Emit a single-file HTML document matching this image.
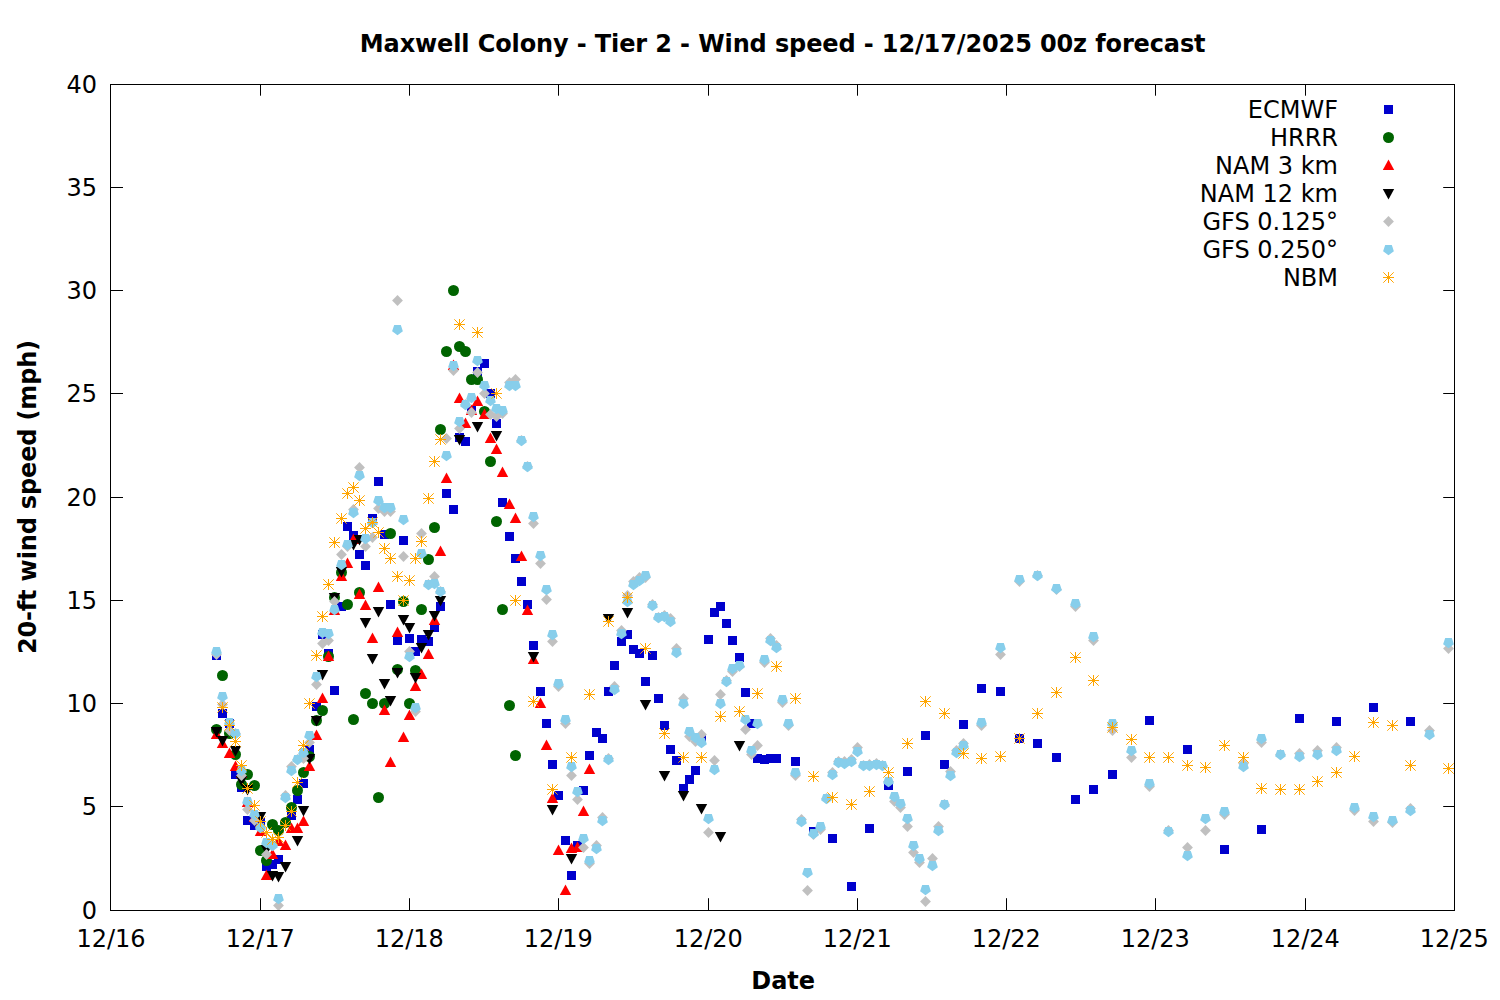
<!DOCTYPE html>
<html lang="en"><head><meta charset="utf-8"><title>Maxwell Colony - Tier 2 - Wind speed - 12/17/2025 00z forecast</title>
<style>html,body{margin:0;padding:0;background:#fff}body{width:1500px;height:1000px;overflow:hidden}svg{display:block}text{font-family:"DejaVu Sans","Liberation Sans",sans-serif;font-size:24px;fill:#000}.b{font-weight:bold}.e{text-anchor:end}.m{text-anchor:middle}</style></head><body>
<svg width="1500" height="1000" viewBox="0 0 1500 1000">
<rect width="1500" height="1000" fill="#fff"/>
<text class="b m" x="782.7" y="51.5" textLength="845.8" lengthAdjust="spacing">Maxwell Colony - Tier 2 - Wind speed - 12/17/2025 00z forecast</text>
<text class="b m" x="783.2" y="989">Date</text>
<text class="b m" transform="translate(35.5 497) rotate(-90)" textLength="314.2" lengthAdjust="spacing">20-ft wind speed (mph)</text>
<text class="e" x="97" y="919.3">0</text>
<text class="e" x="97" y="815.3">5</text>
<text class="e" x="97" y="712.3">10</text>
<text class="e" x="97" y="609.3">15</text>
<text class="e" x="97" y="506.3">20</text>
<text class="e" x="97" y="402.3">25</text>
<text class="e" x="97" y="299.3">30</text>
<text class="e" x="97" y="196.3">35</text>
<text class="e" x="97" y="93.3">40</text>
<text class="m" x="111" y="947">12/16</text>
<text class="m" x="260.25" y="947">12/17</text>
<text class="m" x="409.25" y="947">12/18</text>
<text class="m" x="558.25" y="947">12/19</text>
<text class="m" x="708.25" y="947">12/20</text>
<text class="m" x="857.25" y="947">12/21</text>
<text class="m" x="1006.25" y="947">12/22</text>
<text class="m" x="1155.25" y="947">12/23</text>
<text class="m" x="1305.25" y="947">12/24</text>
<text class="m" x="1454.25" y="947">12/25</text>
<path d="M110.5 910.5h12.5M1454.5 910.5h-11.3M110.5 806.5h12.5M1454.5 806.5h-11.3M110.5 703.5h12.5M1454.5 703.5h-11.3M110.5 600.5h12.5M1454.5 600.5h-11.3M110.5 497.5h12.5M1454.5 497.5h-11.3M110.5 393.5h12.5M1454.5 393.5h-11.3M110.5 290.5h12.5M1454.5 290.5h-11.3M110.5 187.5h12.5M1454.5 187.5h-11.3M110.5 84.5h12.5M1454.5 84.5h-11.3M110.5 910.5v-12.3M110.5 84.5v11.2M260.5 910.5v-12.3M260.5 84.5v11.2M409.5 910.5v-12.3M409.5 84.5v11.2M558.5 910.5v-12.3M558.5 84.5v11.2M708.5 910.5v-12.3M708.5 84.5v11.2M857.5 910.5v-12.3M857.5 84.5v11.2M1006.5 910.5v-12.3M1006.5 84.5v11.2M1155.5 910.5v-12.3M1155.5 84.5v11.2M1305.5 910.5v-12.3M1305.5 84.5v11.2M1454.5 910.5v-12.3M1454.5 84.5v11.2" stroke="#000" stroke-width="1" fill="none"/>
<g stroke-width="1" fill="none">
<g>
<rect x="212" y="651" width="9" height="9" fill="#0000CD"/>
<rect x="218" y="709" width="9" height="9" fill="#0000CD"/>
<rect x="225" y="719" width="9" height="9" fill="#0000CD"/>
<rect x="231" y="770" width="9" height="9" fill="#0000CD"/>
<rect x="237" y="783" width="9" height="9" fill="#0000CD"/>
<rect x="243" y="816" width="9" height="9" fill="#0000CD"/>
<rect x="250" y="821" width="9" height="9" fill="#0000CD"/>
<rect x="256" y="818" width="9" height="9" fill="#0000CD"/>
<rect x="262" y="862" width="9" height="9" fill="#0000CD"/>
<rect x="268" y="860" width="9" height="9" fill="#0000CD"/>
<rect x="274" y="855" width="9" height="9" fill="#0000CD"/>
<rect x="287" y="811" width="9" height="9" fill="#0000CD"/>
<rect x="293" y="795" width="9" height="9" fill="#0000CD"/>
<rect x="299" y="779" width="9" height="9" fill="#0000CD"/>
<rect x="305" y="745" width="9" height="9" fill="#0000CD"/>
<rect x="312" y="702" width="9" height="9" fill="#0000CD"/>
<rect x="318" y="630" width="9" height="9" fill="#0000CD"/>
<rect x="324" y="649" width="9" height="9" fill="#0000CD"/>
<rect x="330" y="686" width="9" height="9" fill="#0000CD"/>
<rect x="337" y="602" width="9" height="9" fill="#0000CD"/>
<rect x="343" y="522" width="9" height="9" fill="#0000CD"/>
<rect x="349" y="531" width="9" height="9" fill="#0000CD"/>
<rect x="355" y="550" width="9" height="9" fill="#0000CD"/>
<rect x="361" y="561" width="9" height="9" fill="#0000CD"/>
<rect x="368" y="514" width="9" height="9" fill="#0000CD"/>
<rect x="374" y="477" width="9" height="9" fill="#0000CD"/>
<rect x="380" y="530" width="9" height="9" fill="#0000CD"/>
<rect x="386" y="600" width="9" height="9" fill="#0000CD"/>
<rect x="393" y="636" width="9" height="9" fill="#0000CD"/>
<rect x="399" y="536" width="9" height="9" fill="#0000CD"/>
<rect x="405" y="634" width="9" height="9" fill="#0000CD"/>
<rect x="411" y="647" width="9" height="9" fill="#0000CD"/>
<rect x="417" y="635" width="9" height="9" fill="#0000CD"/>
<rect x="424" y="637" width="9" height="9" fill="#0000CD"/>
<rect x="430" y="623" width="9" height="9" fill="#0000CD"/>
<rect x="436" y="602" width="9" height="9" fill="#0000CD"/>
<rect x="442" y="489" width="9" height="9" fill="#0000CD"/>
<rect x="449" y="505" width="9" height="9" fill="#0000CD"/>
<rect x="455" y="433" width="9" height="9" fill="#0000CD"/>
<rect x="461" y="437" width="9" height="9" fill="#0000CD"/>
<rect x="467" y="406" width="9" height="9" fill="#0000CD"/>
<rect x="473" y="367" width="9" height="9" fill="#0000CD"/>
<rect x="480" y="359" width="9" height="9" fill="#0000CD"/>
<rect x="486" y="389" width="9" height="9" fill="#0000CD"/>
<rect x="492" y="419" width="9" height="9" fill="#0000CD"/>
<rect x="498" y="498" width="9" height="9" fill="#0000CD"/>
<rect x="505" y="532" width="9" height="9" fill="#0000CD"/>
<rect x="511" y="554" width="9" height="9" fill="#0000CD"/>
<rect x="517" y="577" width="9" height="9" fill="#0000CD"/>
<rect x="523" y="600" width="9" height="9" fill="#0000CD"/>
<rect x="529" y="641" width="9" height="9" fill="#0000CD"/>
<rect x="536" y="687" width="9" height="9" fill="#0000CD"/>
<rect x="542" y="719" width="9" height="9" fill="#0000CD"/>
<rect x="548" y="760" width="9" height="9" fill="#0000CD"/>
<rect x="554" y="791" width="9" height="9" fill="#0000CD"/>
<rect x="561" y="836" width="9" height="9" fill="#0000CD"/>
<rect x="567" y="871" width="9" height="9" fill="#0000CD"/>
<rect x="573" y="841" width="9" height="9" fill="#0000CD"/>
<rect x="579" y="786" width="9" height="9" fill="#0000CD"/>
<rect x="585" y="751" width="9" height="9" fill="#0000CD"/>
<rect x="592" y="728" width="9" height="9" fill="#0000CD"/>
<rect x="598" y="734" width="9" height="9" fill="#0000CD"/>
<rect x="604" y="687" width="9" height="9" fill="#0000CD"/>
<rect x="610" y="661" width="9" height="9" fill="#0000CD"/>
<rect x="617" y="637" width="9" height="9" fill="#0000CD"/>
<rect x="623" y="630" width="9" height="9" fill="#0000CD"/>
<rect x="629" y="645" width="9" height="9" fill="#0000CD"/>
<rect x="635" y="649" width="9" height="9" fill="#0000CD"/>
<rect x="641" y="677" width="9" height="9" fill="#0000CD"/>
<rect x="648" y="651" width="9" height="9" fill="#0000CD"/>
<rect x="654" y="694" width="9" height="9" fill="#0000CD"/>
<rect x="660" y="721" width="9" height="9" fill="#0000CD"/>
<rect x="666" y="745" width="9" height="9" fill="#0000CD"/>
<rect x="672" y="756" width="9" height="9" fill="#0000CD"/>
<rect x="679" y="784" width="9" height="9" fill="#0000CD"/>
<rect x="685" y="775" width="9" height="9" fill="#0000CD"/>
<rect x="691" y="766" width="9" height="9" fill="#0000CD"/>
<rect x="697" y="735" width="9" height="9" fill="#0000CD"/>
<rect x="704" y="635" width="9" height="9" fill="#0000CD"/>
<rect x="710" y="608" width="9" height="9" fill="#0000CD"/>
<rect x="716" y="602" width="9" height="9" fill="#0000CD"/>
<rect x="722" y="619" width="9" height="9" fill="#0000CD"/>
<rect x="728" y="636" width="9" height="9" fill="#0000CD"/>
<rect x="735" y="653" width="9" height="9" fill="#0000CD"/>
<rect x="741" y="688" width="9" height="9" fill="#0000CD"/>
<rect x="747" y="719" width="9" height="9" fill="#0000CD"/>
<rect x="753" y="754" width="9" height="9" fill="#0000CD"/>
<rect x="760" y="755" width="9" height="9" fill="#0000CD"/>
<rect x="766" y="754" width="9" height="9" fill="#0000CD"/>
<rect x="772" y="754" width="9" height="9" fill="#0000CD"/>
<rect x="791" y="757" width="9" height="9" fill="#0000CD"/>
<rect x="809" y="827" width="9" height="9" fill="#0000CD"/>
<rect x="828" y="834" width="9" height="9" fill="#0000CD"/>
<rect x="847" y="882" width="9" height="9" fill="#0000CD"/>
<rect x="865" y="824" width="9" height="9" fill="#0000CD"/>
<rect x="884" y="781" width="9" height="9" fill="#0000CD"/>
<rect x="903" y="767" width="9" height="9" fill="#0000CD"/>
<rect x="921" y="731" width="9" height="9" fill="#0000CD"/>
<rect x="940" y="760" width="9" height="9" fill="#0000CD"/>
<rect x="959" y="720" width="9" height="9" fill="#0000CD"/>
<rect x="977" y="684" width="9" height="9" fill="#0000CD"/>
<rect x="996" y="687" width="9" height="9" fill="#0000CD"/>
<rect x="1015" y="734" width="9" height="9" fill="#0000CD"/>
<rect x="1033" y="739" width="9" height="9" fill="#0000CD"/>
<rect x="1052" y="753" width="9" height="9" fill="#0000CD"/>
<rect x="1071" y="795" width="9" height="9" fill="#0000CD"/>
<rect x="1089" y="785" width="9" height="9" fill="#0000CD"/>
<rect x="1108" y="770" width="9" height="9" fill="#0000CD"/>
<rect x="1145" y="716" width="9" height="9" fill="#0000CD"/>
<rect x="1183" y="745" width="9" height="9" fill="#0000CD"/>
<rect x="1220" y="845" width="9" height="9" fill="#0000CD"/>
<rect x="1257" y="825" width="9" height="9" fill="#0000CD"/>
<rect x="1295" y="714" width="9" height="9" fill="#0000CD"/>
<rect x="1332" y="717" width="9" height="9" fill="#0000CD"/>
<rect x="1369" y="703" width="9" height="9" fill="#0000CD"/>
<rect x="1406" y="717" width="9" height="9" fill="#0000CD"/>
</g>
<g>
<circle cx="216.5" cy="729.5" r="5.5" fill="#006400"/>
<circle cx="222.5" cy="675.5" r="5.5" fill="#006400"/>
<circle cx="229.5" cy="733.5" r="5.5" fill="#006400"/>
<circle cx="235.5" cy="754.5" r="5.5" fill="#006400"/>
<circle cx="241.5" cy="784.5" r="5.5" fill="#006400"/>
<circle cx="247.5" cy="774.5" r="5.5" fill="#006400"/>
<circle cx="254.5" cy="785.5" r="5.5" fill="#006400"/>
<circle cx="260.5" cy="850.5" r="5.5" fill="#006400"/>
<circle cx="266.5" cy="860.5" r="5.5" fill="#006400"/>
<circle cx="272.5" cy="824.5" r="5.5" fill="#006400"/>
<circle cx="278.5" cy="830.5" r="5.5" fill="#006400"/>
<circle cx="285.5" cy="822.5" r="5.5" fill="#006400"/>
<circle cx="291.5" cy="807.5" r="5.5" fill="#006400"/>
<circle cx="297.5" cy="790.5" r="5.5" fill="#006400"/>
<circle cx="303.5" cy="772.5" r="5.5" fill="#006400"/>
<circle cx="309.5" cy="756.5" r="5.5" fill="#006400"/>
<circle cx="316.5" cy="720.5" r="5.5" fill="#006400"/>
<circle cx="322.5" cy="710.5" r="5.5" fill="#006400"/>
<circle cx="328.5" cy="656.5" r="5.5" fill="#006400"/>
<circle cx="334.5" cy="597.5" r="5.5" fill="#006400"/>
<circle cx="341.5" cy="572.5" r="5.5" fill="#006400"/>
<circle cx="347.5" cy="604.5" r="5.5" fill="#006400"/>
<circle cx="353.5" cy="719.5" r="5.5" fill="#006400"/>
<circle cx="359.5" cy="592.5" r="5.5" fill="#006400"/>
<circle cx="365.5" cy="693.5" r="5.5" fill="#006400"/>
<circle cx="372.5" cy="703.5" r="5.5" fill="#006400"/>
<circle cx="378.5" cy="797.5" r="5.5" fill="#006400"/>
<circle cx="384.5" cy="703.5" r="5.5" fill="#006400"/>
<circle cx="390.5" cy="533.5" r="5.5" fill="#006400"/>
<circle cx="397.5" cy="669.5" r="5.5" fill="#006400"/>
<circle cx="403.5" cy="601.5" r="5.5" fill="#006400"/>
<circle cx="409.5" cy="703.5" r="5.5" fill="#006400"/>
<circle cx="415.5" cy="670.5" r="5.5" fill="#006400"/>
<circle cx="421.5" cy="609.5" r="5.5" fill="#006400"/>
<circle cx="428.5" cy="559.5" r="5.5" fill="#006400"/>
<circle cx="434.5" cy="527.5" r="5.5" fill="#006400"/>
<circle cx="440.5" cy="429.5" r="5.5" fill="#006400"/>
<circle cx="446.5" cy="351.5" r="5.5" fill="#006400"/>
<circle cx="453.5" cy="290.5" r="5.5" fill="#006400"/>
<circle cx="459.5" cy="346.5" r="5.5" fill="#006400"/>
<circle cx="465.5" cy="351.5" r="5.5" fill="#006400"/>
<circle cx="471.5" cy="379.5" r="5.5" fill="#006400"/>
<circle cx="477.5" cy="379.5" r="5.5" fill="#006400"/>
<circle cx="484.5" cy="411.5" r="5.5" fill="#006400"/>
<circle cx="490.5" cy="461.5" r="5.5" fill="#006400"/>
<circle cx="496.5" cy="521.5" r="5.5" fill="#006400"/>
<circle cx="502.5" cy="609.5" r="5.5" fill="#006400"/>
<circle cx="509.5" cy="705.5" r="5.5" fill="#006400"/>
<circle cx="515.5" cy="755.5" r="5.5" fill="#006400"/>
</g>
<g>
<polygon points="216.5,728.5 222.2,739 210.8,739" fill="#FF0000"/>
<polygon points="222.5,737.5 228.2,748 216.8,748" fill="#FF0000"/>
<polygon points="229.5,747.5 235.2,758 223.8,758" fill="#FF0000"/>
<polygon points="235.5,760.5 241.2,771 229.8,771" fill="#FF0000"/>
<polygon points="241.5,767.5 247.2,778 235.8,778" fill="#FF0000"/>
<polygon points="247.5,796.5 253.2,807 241.8,807" fill="#FF0000"/>
<polygon points="254.5,811.5 260.2,822 248.8,822" fill="#FF0000"/>
<polygon points="260.5,825.5 266.2,836 254.8,836" fill="#FF0000"/>
<polygon points="266.5,869.5 272.2,880 260.8,880" fill="#FF0000"/>
<polygon points="272.5,848.5 278.2,859 266.8,859" fill="#FF0000"/>
<polygon points="278.5,835.5 284.2,846 272.8,846" fill="#FF0000"/>
<polygon points="285.5,839.5 291.2,850 279.8,850" fill="#FF0000"/>
<polygon points="291.5,822.5 297.2,833 285.8,833" fill="#FF0000"/>
<polygon points="297.5,822.5 303.2,833 291.8,833" fill="#FF0000"/>
<polygon points="303.5,815.5 309.2,826 297.8,826" fill="#FF0000"/>
<polygon points="309.5,760.5 315.2,771 303.8,771" fill="#FF0000"/>
<polygon points="316.5,729.5 322.2,740 310.8,740" fill="#FF0000"/>
<polygon points="322.5,692.5 328.2,703 316.8,703" fill="#FF0000"/>
<polygon points="328.5,650.5 334.2,661 322.8,661" fill="#FF0000"/>
<polygon points="334.5,604.5 340.2,615 328.8,615" fill="#FF0000"/>
<polygon points="341.5,570.5 347.2,581 335.8,581" fill="#FF0000"/>
<polygon points="347.5,557.5 353.2,568 341.8,568" fill="#FF0000"/>
<polygon points="353.5,533.5 359.2,544 347.8,544" fill="#FF0000"/>
<polygon points="359.5,588.5 365.2,599 353.8,599" fill="#FF0000"/>
<polygon points="365.5,599.5 371.2,610 359.8,610" fill="#FF0000"/>
<polygon points="372.5,632.5 378.2,643 366.8,643" fill="#FF0000"/>
<polygon points="378.5,581.5 384.2,592 372.8,592" fill="#FF0000"/>
<polygon points="384.5,704.5 390.2,715 378.8,715" fill="#FF0000"/>
<polygon points="390.5,756.5 396.2,767 384.8,767" fill="#FF0000"/>
<polygon points="397.5,626.5 403.2,637 391.8,637" fill="#FF0000"/>
<polygon points="403.5,731.5 409.2,742 397.8,742" fill="#FF0000"/>
<polygon points="409.5,709.5 415.2,720 403.8,720" fill="#FF0000"/>
<polygon points="415.5,680.5 421.2,691 409.8,691" fill="#FF0000"/>
<polygon points="421.5,668.5 427.2,679 415.8,679" fill="#FF0000"/>
<polygon points="428.5,648.5 434.2,659 422.8,659" fill="#FF0000"/>
<polygon points="434.5,614.5 440.2,625 428.8,625" fill="#FF0000"/>
<polygon points="440.5,545.5 446.2,556 434.8,556" fill="#FF0000"/>
<polygon points="446.5,472.5 452.2,483 440.8,483" fill="#FF0000"/>
<polygon points="453.5,359.5 459.2,370 447.8,370" fill="#FF0000"/>
<polygon points="459.5,392.5 465.2,403 453.8,403" fill="#FF0000"/>
<polygon points="465.5,417.5 471.2,428 459.8,428" fill="#FF0000"/>
<polygon points="471.5,404.5 477.2,415 465.8,415" fill="#FF0000"/>
<polygon points="477.5,395.5 483.2,406 471.8,406" fill="#FF0000"/>
<polygon points="484.5,408.5 490.2,419 478.8,419" fill="#FF0000"/>
<polygon points="490.5,432.5 496.2,443 484.8,443" fill="#FF0000"/>
<polygon points="496.5,443.5 502.2,454 490.8,454" fill="#FF0000"/>
<polygon points="502.5,466.5 508.2,477 496.8,477" fill="#FF0000"/>
<polygon points="509.5,498.5 515.2,509 503.8,509" fill="#FF0000"/>
<polygon points="515.5,512.5 521.2,523 509.8,523" fill="#FF0000"/>
<polygon points="521.5,550.5 527.2,561 515.8,561" fill="#FF0000"/>
<polygon points="527.5,604.5 533.2,615 521.8,615" fill="#FF0000"/>
<polygon points="533.5,653.5 539.2,664 527.8,664" fill="#FF0000"/>
<polygon points="540.5,697.5 546.2,708 534.8,708" fill="#FF0000"/>
<polygon points="546.5,739.5 552.2,750 540.8,750" fill="#FF0000"/>
<polygon points="552.5,792.5 558.2,803 546.8,803" fill="#FF0000"/>
<polygon points="558.5,844.5 564.2,855 552.8,855" fill="#FF0000"/>
<polygon points="565.5,884.5 571.2,895 559.8,895" fill="#FF0000"/>
<polygon points="571.5,842.5 577.2,853 565.8,853" fill="#FF0000"/>
<polygon points="577.5,841.5 583.2,852 571.8,852" fill="#FF0000"/>
<polygon points="583.5,805.5 589.2,816 577.8,816" fill="#FF0000"/>
<polygon points="589.5,763.5 595.2,774 583.8,774" fill="#FF0000"/>
</g>
<g>
<polygon points="216.5,737.5 222.2,727 210.8,727" fill="#000000"/>
<polygon points="222.5,746.5 228.2,736 216.8,736" fill="#000000"/>
<polygon points="235.5,756.5 241.2,746 229.8,746" fill="#000000"/>
<polygon points="241.5,786.5 247.2,776 235.8,776" fill="#000000"/>
<polygon points="247.5,795.5 253.2,785 241.8,785" fill="#000000"/>
<polygon points="260.5,822.5 266.2,812 254.8,812" fill="#000000"/>
<polygon points="266.5,855.5 272.2,845 260.8,845" fill="#000000"/>
<polygon points="272.5,881.5 278.2,871 266.8,871" fill="#000000"/>
<polygon points="278.5,882.5 284.2,872 272.8,872" fill="#000000"/>
<polygon points="285.5,872.5 291.2,862 279.8,862" fill="#000000"/>
<polygon points="297.5,846.5 303.2,836 291.8,836" fill="#000000"/>
<polygon points="303.5,816.5 309.2,806 297.8,806" fill="#000000"/>
<polygon points="309.5,764.5 315.2,754 303.8,754" fill="#000000"/>
<polygon points="316.5,726.5 322.2,716 310.8,716" fill="#000000"/>
<polygon points="322.5,680.5 328.2,670 316.8,670" fill="#000000"/>
<polygon points="334.5,603.5 340.2,593 328.8,593" fill="#000000"/>
<polygon points="341.5,577.5 347.2,567 335.8,567" fill="#000000"/>
<polygon points="353.5,550.5 359.2,540 347.8,540" fill="#000000"/>
<polygon points="359.5,545.5 365.2,535 353.8,535" fill="#000000"/>
<polygon points="365.5,628.5 371.2,618 359.8,618" fill="#000000"/>
<polygon points="372.5,664.5 378.2,654 366.8,654" fill="#000000"/>
<polygon points="378.5,617.5 384.2,607 372.8,607" fill="#000000"/>
<polygon points="384.5,689.5 390.2,679 378.8,679" fill="#000000"/>
<polygon points="390.5,706.5 396.2,696 384.8,696" fill="#000000"/>
<polygon points="397.5,678.5 403.2,668 391.8,668" fill="#000000"/>
<polygon points="403.5,625.5 409.2,615 397.8,615" fill="#000000"/>
<polygon points="409.5,633.5 415.2,623 403.8,623" fill="#000000"/>
<polygon points="415.5,683.5 421.2,673 409.8,673" fill="#000000"/>
<polygon points="421.5,653.5 427.2,643 415.8,643" fill="#000000"/>
<polygon points="428.5,640.5 434.2,630 422.8,630" fill="#000000"/>
<polygon points="434.5,621.5 440.2,611 428.8,611" fill="#000000"/>
<polygon points="440.5,606.5 446.2,596 434.8,596" fill="#000000"/>
<polygon points="459.5,445.5 465.2,435 453.8,435" fill="#000000"/>
<polygon points="477.5,432.5 483.2,422 471.8,422" fill="#000000"/>
<polygon points="496.5,441.5 502.2,431 490.8,431" fill="#000000"/>
<polygon points="533.5,662.5 539.2,652 527.8,652" fill="#000000"/>
<polygon points="552.5,815.5 558.2,805 546.8,805" fill="#000000"/>
<polygon points="571.5,864.5 577.2,854 565.8,854" fill="#000000"/>
<polygon points="608.5,624.5 614.2,614 602.8,614" fill="#000000"/>
<polygon points="627.5,618.5 633.2,608 621.8,608" fill="#000000"/>
<polygon points="645.5,710.5 651.2,700 639.8,700" fill="#000000"/>
<polygon points="664.5,781.5 670.2,771 658.8,771" fill="#000000"/>
<polygon points="683.5,801.5 689.2,791 677.8,791" fill="#000000"/>
<polygon points="701.5,814.5 707.2,804 695.8,804" fill="#000000"/>
<polygon points="720.5,842.5 726.2,832 714.8,832" fill="#000000"/>
<polygon points="739.5,751.5 745.2,741 733.8,741" fill="#000000"/>
</g>
<g>
<polygon points="216.5,649.1 221.9,654.5 216.5,659.9 211.1,654.5" fill="#C0C0C0"/>
<polygon points="222.5,699.1 227.9,704.5 222.5,709.9 217.1,704.5" fill="#C0C0C0"/>
<polygon points="229.5,725.1 234.9,730.5 229.5,735.9 224.1,730.5" fill="#C0C0C0"/>
<polygon points="235.5,728.1 240.9,733.5 235.5,738.9 230.1,733.5" fill="#C0C0C0"/>
<polygon points="241.5,770.1 246.9,775.5 241.5,780.9 236.1,775.5" fill="#C0C0C0"/>
<polygon points="247.5,804.1 252.9,809.5 247.5,814.9 242.1,809.5" fill="#C0C0C0"/>
<polygon points="254.5,815.1 259.9,820.5 254.5,825.9 249.1,820.5" fill="#C0C0C0"/>
<polygon points="260.5,822.1 265.9,827.5 260.5,832.9 255.1,827.5" fill="#C0C0C0"/>
<polygon points="266.5,849.1 271.9,854.5 266.5,859.9 261.1,854.5" fill="#C0C0C0"/>
<polygon points="272.5,840.1 277.9,845.5 272.5,850.9 267.1,845.5" fill="#C0C0C0"/>
<polygon points="278.5,900.1 283.9,905.5 278.5,910.9 273.1,905.5" fill="#C0C0C0"/>
<polygon points="285.5,790.1 290.9,795.5 285.5,800.9 280.1,795.5" fill="#C0C0C0"/>
<polygon points="291.5,761.1 296.9,766.5 291.5,771.9 286.1,766.5" fill="#C0C0C0"/>
<polygon points="297.5,754.1 302.9,759.5 297.5,764.9 292.1,759.5" fill="#C0C0C0"/>
<polygon points="303.5,753.1 308.9,758.5 303.5,763.9 298.1,758.5" fill="#C0C0C0"/>
<polygon points="309.5,737.1 314.9,742.5 309.5,747.9 304.1,742.5" fill="#C0C0C0"/>
<polygon points="316.5,679.1 321.9,684.5 316.5,689.9 311.1,684.5" fill="#C0C0C0"/>
<polygon points="322.5,638.1 327.9,643.5 322.5,648.9 317.1,643.5" fill="#C0C0C0"/>
<polygon points="328.5,635.1 333.9,640.5 328.5,645.9 323.1,640.5" fill="#C0C0C0"/>
<polygon points="334.5,596.1 339.9,601.5 334.5,606.9 329.1,601.5" fill="#C0C0C0"/>
<polygon points="341.5,549.1 346.9,554.5 341.5,559.9 336.1,554.5" fill="#C0C0C0"/>
<polygon points="347.5,541.1 352.9,546.5 347.5,551.9 342.1,546.5" fill="#C0C0C0"/>
<polygon points="353.5,504.1 358.9,509.5 353.5,514.9 348.1,509.5" fill="#C0C0C0"/>
<polygon points="359.5,462.1 364.9,467.5 359.5,472.9 354.1,467.5" fill="#C0C0C0"/>
<polygon points="365.5,541.1 370.9,546.5 365.5,551.9 360.1,546.5" fill="#C0C0C0"/>
<polygon points="372.5,532.1 377.9,537.5 372.5,542.9 367.1,537.5" fill="#C0C0C0"/>
<polygon points="378.5,503.1 383.9,508.5 378.5,513.9 373.1,508.5" fill="#C0C0C0"/>
<polygon points="384.5,506.1 389.9,511.5 384.5,516.9 379.1,511.5" fill="#C0C0C0"/>
<polygon points="390.5,506.1 395.9,511.5 390.5,516.9 385.1,511.5" fill="#C0C0C0"/>
<polygon points="397.5,295.1 402.9,300.5 397.5,305.9 392.1,300.5" fill="#C0C0C0"/>
<polygon points="403.5,551.1 408.9,556.5 403.5,561.9 398.1,556.5" fill="#C0C0C0"/>
<polygon points="409.5,646.1 414.9,651.5 409.5,656.9 404.1,651.5" fill="#C0C0C0"/>
<polygon points="415.5,706.1 420.9,711.5 415.5,716.9 410.1,711.5" fill="#C0C0C0"/>
<polygon points="421.5,528.1 426.9,533.5 421.5,538.9 416.1,533.5" fill="#C0C0C0"/>
<polygon points="428.5,579.1 433.9,584.5 428.5,589.9 423.1,584.5" fill="#C0C0C0"/>
<polygon points="434.5,571.1 439.9,576.5 434.5,581.9 429.1,576.5" fill="#C0C0C0"/>
<polygon points="440.5,586.1 445.9,591.5 440.5,596.9 435.1,591.5" fill="#C0C0C0"/>
<polygon points="446.5,433.1 451.9,438.5 446.5,443.9 441.1,438.5" fill="#C0C0C0"/>
<polygon points="453.5,365.1 458.9,370.5 453.5,375.9 448.1,370.5" fill="#C0C0C0"/>
<polygon points="459.5,423.1 464.9,428.5 459.5,433.9 454.1,428.5" fill="#C0C0C0"/>
<polygon points="465.5,399.1 470.9,404.5 465.5,409.9 460.1,404.5" fill="#C0C0C0"/>
<polygon points="471.5,407.1 476.9,412.5 471.5,417.9 466.1,412.5" fill="#C0C0C0"/>
<polygon points="477.5,367.1 482.9,372.5 477.5,377.9 472.1,372.5" fill="#C0C0C0"/>
<polygon points="484.5,388.1 489.9,393.5 484.5,398.9 479.1,393.5" fill="#C0C0C0"/>
<polygon points="490.5,409.1 495.9,414.5 490.5,419.9 485.1,414.5" fill="#C0C0C0"/>
<polygon points="496.5,411.1 501.9,416.5 496.5,421.9 491.1,416.5" fill="#C0C0C0"/>
<polygon points="502.5,408.1 507.9,413.5 502.5,418.9 497.1,413.5" fill="#C0C0C0"/>
<polygon points="509.5,377.1 514.9,382.5 509.5,387.9 504.1,382.5" fill="#C0C0C0"/>
<polygon points="515.5,374.1 520.9,379.5 515.5,384.9 510.1,379.5" fill="#C0C0C0"/>
<polygon points="521.5,435.1 526.9,440.5 521.5,445.9 516.1,440.5" fill="#C0C0C0"/>
<polygon points="527.5,461.1 532.9,466.5 527.5,471.9 522.1,466.5" fill="#C0C0C0"/>
<polygon points="533.5,518.1 538.9,523.5 533.5,528.9 528.1,523.5" fill="#C0C0C0"/>
<polygon points="540.5,558.1 545.9,563.5 540.5,568.9 535.1,563.5" fill="#C0C0C0"/>
<polygon points="546.5,594.1 551.9,599.5 546.5,604.9 541.1,599.5" fill="#C0C0C0"/>
<polygon points="552.5,636.1 557.9,641.5 552.5,646.9 547.1,641.5" fill="#C0C0C0"/>
<polygon points="558.5,681.1 563.9,686.5 558.5,691.9 553.1,686.5" fill="#C0C0C0"/>
<polygon points="565.5,718.1 570.9,723.5 565.5,728.9 560.1,723.5" fill="#C0C0C0"/>
<polygon points="571.5,770.1 576.9,775.5 571.5,780.9 566.1,775.5" fill="#C0C0C0"/>
<polygon points="577.5,794.1 582.9,799.5 577.5,804.9 572.1,799.5" fill="#C0C0C0"/>
<polygon points="583.5,842.1 588.9,847.5 583.5,852.9 578.1,847.5" fill="#C0C0C0"/>
<polygon points="589.5,858.1 594.9,863.5 589.5,868.9 584.1,863.5" fill="#C0C0C0"/>
<polygon points="596.5,840.1 601.9,845.5 596.5,850.9 591.1,845.5" fill="#C0C0C0"/>
<polygon points="602.5,812.1 607.9,817.5 602.5,822.9 597.1,817.5" fill="#C0C0C0"/>
<polygon points="608.5,753.1 613.9,758.5 608.5,763.9 603.1,758.5" fill="#C0C0C0"/>
<polygon points="614.5,681.1 619.9,686.5 614.5,691.9 609.1,686.5" fill="#C0C0C0"/>
<polygon points="621.5,625.1 626.9,630.5 621.5,635.9 616.1,630.5" fill="#C0C0C0"/>
<polygon points="627.5,590.1 632.9,595.5 627.5,600.9 622.1,595.5" fill="#C0C0C0"/>
<polygon points="633.5,576.1 638.9,581.5 633.5,586.9 628.1,581.5" fill="#C0C0C0"/>
<polygon points="639.5,572.1 644.9,577.5 639.5,582.9 634.1,577.5" fill="#C0C0C0"/>
<polygon points="645.5,572.1 650.9,577.5 645.5,582.9 640.1,577.5" fill="#C0C0C0"/>
<polygon points="652.5,599.1 657.9,604.5 652.5,609.9 647.1,604.5" fill="#C0C0C0"/>
<polygon points="658.5,612.1 663.9,617.5 658.5,622.9 653.1,617.5" fill="#C0C0C0"/>
<polygon points="664.5,610.1 669.9,615.5 664.5,620.9 659.1,615.5" fill="#C0C0C0"/>
<polygon points="670.5,613.1 675.9,618.5 670.5,623.9 665.1,618.5" fill="#C0C0C0"/>
<polygon points="676.5,643.1 681.9,648.5 676.5,653.9 671.1,648.5" fill="#C0C0C0"/>
<polygon points="683.5,693.1 688.9,698.5 683.5,703.9 678.1,698.5" fill="#C0C0C0"/>
<polygon points="689.5,731.1 694.9,736.5 689.5,741.9 684.1,736.5" fill="#C0C0C0"/>
<polygon points="695.5,736.1 700.9,741.5 695.5,746.9 690.1,741.5" fill="#C0C0C0"/>
<polygon points="701.5,729.1 706.9,734.5 701.5,739.9 696.1,734.5" fill="#C0C0C0"/>
<polygon points="708.5,827.1 713.9,832.5 708.5,837.9 703.1,832.5" fill="#C0C0C0"/>
<polygon points="714.5,755.1 719.9,760.5 714.5,765.9 709.1,760.5" fill="#C0C0C0"/>
<polygon points="720.5,689.1 725.9,694.5 720.5,699.9 715.1,694.5" fill="#C0C0C0"/>
<polygon points="726.5,675.1 731.9,680.5 726.5,685.9 721.1,680.5" fill="#C0C0C0"/>
<polygon points="732.5,666.1 737.9,671.5 732.5,676.9 727.1,671.5" fill="#C0C0C0"/>
<polygon points="739.5,661.1 744.9,666.5 739.5,671.9 734.1,666.5" fill="#C0C0C0"/>
<polygon points="745.5,724.1 750.9,729.5 745.5,734.9 740.1,729.5" fill="#C0C0C0"/>
<polygon points="751.5,749.1 756.9,754.5 751.5,759.9 746.1,754.5" fill="#C0C0C0"/>
<polygon points="757.5,740.1 762.9,745.5 757.5,750.9 752.1,745.5" fill="#C0C0C0"/>
<polygon points="764.5,657.1 769.9,662.5 764.5,667.9 759.1,662.5" fill="#C0C0C0"/>
<polygon points="770.5,633.1 775.9,638.5 770.5,643.9 765.1,638.5" fill="#C0C0C0"/>
<polygon points="776.5,640.1 781.9,645.5 776.5,650.9 771.1,645.5" fill="#C0C0C0"/>
<polygon points="782.5,697.1 787.9,702.5 782.5,707.9 777.1,702.5" fill="#C0C0C0"/>
<polygon points="788.5,720.1 793.9,725.5 788.5,730.9 783.1,725.5" fill="#C0C0C0"/>
<polygon points="795.5,770.1 800.9,775.5 795.5,780.9 790.1,775.5" fill="#C0C0C0"/>
<polygon points="801.5,814.1 806.9,819.5 801.5,824.9 796.1,819.5" fill="#C0C0C0"/>
<polygon points="807.5,885.1 812.9,890.5 807.5,895.9 802.1,890.5" fill="#C0C0C0"/>
<polygon points="813.5,829.1 818.9,834.5 813.5,839.9 808.1,834.5" fill="#C0C0C0"/>
<polygon points="820.5,824.1 825.9,829.5 820.5,834.9 815.1,829.5" fill="#C0C0C0"/>
<polygon points="826.5,793.1 831.9,798.5 826.5,803.9 821.1,798.5" fill="#C0C0C0"/>
<polygon points="832.5,767.1 837.9,772.5 832.5,777.9 827.1,772.5" fill="#C0C0C0"/>
<polygon points="838.5,756.1 843.9,761.5 838.5,766.9 833.1,761.5" fill="#C0C0C0"/>
<polygon points="844.5,756.1 849.9,761.5 844.5,766.9 839.1,761.5" fill="#C0C0C0"/>
<polygon points="851.5,754.1 856.9,759.5 851.5,764.9 846.1,759.5" fill="#C0C0C0"/>
<polygon points="857.5,742.1 862.9,747.5 857.5,752.9 852.1,747.5" fill="#C0C0C0"/>
<polygon points="863.5,760.1 868.9,765.5 863.5,770.9 858.1,765.5" fill="#C0C0C0"/>
<polygon points="869.5,759.1 874.9,764.5 869.5,769.9 864.1,764.5" fill="#C0C0C0"/>
<polygon points="876.5,758.1 881.9,763.5 876.5,768.9 871.1,763.5" fill="#C0C0C0"/>
<polygon points="882.5,760.1 887.9,765.5 882.5,770.9 877.1,765.5" fill="#C0C0C0"/>
<polygon points="888.5,776.1 893.9,781.5 888.5,786.9 883.1,781.5" fill="#C0C0C0"/>
<polygon points="894.5,796.1 899.9,801.5 894.5,806.9 889.1,801.5" fill="#C0C0C0"/>
<polygon points="900.5,802.1 905.9,807.5 900.5,812.9 895.1,807.5" fill="#C0C0C0"/>
<polygon points="907.5,821.1 912.9,826.5 907.5,831.9 902.1,826.5" fill="#C0C0C0"/>
<polygon points="913.5,847.1 918.9,852.5 913.5,857.9 908.1,852.5" fill="#C0C0C0"/>
<polygon points="919.5,857.1 924.9,862.5 919.5,867.9 914.1,862.5" fill="#C0C0C0"/>
<polygon points="925.5,896.1 930.9,901.5 925.5,906.9 920.1,901.5" fill="#C0C0C0"/>
<polygon points="932.5,853.1 937.9,858.5 932.5,863.9 927.1,858.5" fill="#C0C0C0"/>
<polygon points="938.5,821.1 943.9,826.5 938.5,831.9 933.1,826.5" fill="#C0C0C0"/>
<polygon points="944.5,799.1 949.9,804.5 944.5,809.9 939.1,804.5" fill="#C0C0C0"/>
<polygon points="950.5,766.1 955.9,771.5 950.5,776.9 945.1,771.5" fill="#C0C0C0"/>
<polygon points="956.5,745.1 961.9,750.5 956.5,755.9 951.1,750.5" fill="#C0C0C0"/>
<polygon points="963.5,738.1 968.9,743.5 963.5,748.9 958.1,743.5" fill="#C0C0C0"/>
<polygon points="981.5,720.1 986.9,725.5 981.5,730.9 976.1,725.5" fill="#C0C0C0"/>
<polygon points="1000.5,649.1 1005.9,654.5 1000.5,659.9 995.1,654.5" fill="#C0C0C0"/>
<polygon points="1019.5,576.1 1024.9,581.5 1019.5,586.9 1014.1,581.5" fill="#C0C0C0"/>
<polygon points="1037.5,570.1 1042.9,575.5 1037.5,580.9 1032.1,575.5" fill="#C0C0C0"/>
<polygon points="1056.5,584.1 1061.9,589.5 1056.5,594.9 1051.1,589.5" fill="#C0C0C0"/>
<polygon points="1075.5,601.1 1080.9,606.5 1075.5,611.9 1070.1,606.5" fill="#C0C0C0"/>
<polygon points="1093.5,635.1 1098.9,640.5 1093.5,645.9 1088.1,640.5" fill="#C0C0C0"/>
<polygon points="1112.5,725.1 1117.9,730.5 1112.5,735.9 1107.1,730.5" fill="#C0C0C0"/>
<polygon points="1131.5,752.1 1136.9,757.5 1131.5,762.9 1126.1,757.5" fill="#C0C0C0"/>
<polygon points="1149.5,781.1 1154.9,786.5 1149.5,791.9 1144.1,786.5" fill="#C0C0C0"/>
<polygon points="1168.5,825.1 1173.9,830.5 1168.5,835.9 1163.1,830.5" fill="#C0C0C0"/>
<polygon points="1187.5,842.1 1192.9,847.5 1187.5,852.9 1182.1,847.5" fill="#C0C0C0"/>
<polygon points="1205.5,825.1 1210.9,830.5 1205.5,835.9 1200.1,830.5" fill="#C0C0C0"/>
<polygon points="1224.5,809.1 1229.9,814.5 1224.5,819.9 1219.1,814.5" fill="#C0C0C0"/>
<polygon points="1243.5,758.1 1248.9,763.5 1243.5,768.9 1238.1,763.5" fill="#C0C0C0"/>
<polygon points="1261.5,737.1 1266.9,742.5 1261.5,747.9 1256.1,742.5" fill="#C0C0C0"/>
<polygon points="1280.5,749.1 1285.9,754.5 1280.5,759.9 1275.1,754.5" fill="#C0C0C0"/>
<polygon points="1299.5,748.1 1304.9,753.5 1299.5,758.9 1294.1,753.5" fill="#C0C0C0"/>
<polygon points="1317.5,745.1 1322.9,750.5 1317.5,755.9 1312.1,750.5" fill="#C0C0C0"/>
<polygon points="1336.5,742.1 1341.9,747.5 1336.5,752.9 1331.1,747.5" fill="#C0C0C0"/>
<polygon points="1354.5,805.1 1359.9,810.5 1354.5,815.9 1349.1,810.5" fill="#C0C0C0"/>
<polygon points="1373.5,816.1 1378.9,821.5 1373.5,826.9 1368.1,821.5" fill="#C0C0C0"/>
<polygon points="1392.5,817.1 1397.9,822.5 1392.5,827.9 1387.1,822.5" fill="#C0C0C0"/>
<polygon points="1410.5,803.1 1415.9,808.5 1410.5,813.9 1405.1,808.5" fill="#C0C0C0"/>
<polygon points="1429.5,725.1 1434.9,730.5 1429.5,735.9 1424.1,730.5" fill="#C0C0C0"/>
<polygon points="1448.5,643.1 1453.9,648.5 1448.5,653.9 1443.1,648.5" fill="#C0C0C0"/>
</g>
<g>
<polygon points="216.5,657.15 211.13,653.25 213.18,646.93 219.82,646.93 221.87,653.25" fill="#87CEEB"/>
<polygon points="222.5,702.15 217.13,698.25 219.18,691.93 225.82,691.93 227.87,698.25" fill="#87CEEB"/>
<polygon points="229.5,728.15 224.13,724.25 226.18,717.93 232.82,717.93 234.87,724.25" fill="#87CEEB"/>
<polygon points="235.5,739.15 230.13,735.25 232.18,728.93 238.82,728.93 240.87,735.25" fill="#87CEEB"/>
<polygon points="241.5,776.15 236.13,772.25 238.18,765.93 244.82,765.93 246.87,772.25" fill="#87CEEB"/>
<polygon points="247.5,807.15 242.13,803.25 244.18,796.93 250.82,796.93 252.87,803.25" fill="#87CEEB"/>
<polygon points="254.5,820.15 249.13,816.25 251.18,809.93 257.82,809.93 259.87,816.25" fill="#87CEEB"/>
<polygon points="260.5,833.15 255.13,829.25 257.18,822.93 263.82,822.93 265.87,829.25" fill="#87CEEB"/>
<polygon points="266.5,848.15 261.13,844.25 263.18,837.93 269.82,837.93 271.87,844.25" fill="#87CEEB"/>
<polygon points="272.5,851.15 267.13,847.25 269.18,840.93 275.82,840.93 277.87,847.25" fill="#87CEEB"/>
<polygon points="278.5,904.15 273.13,900.25 275.18,893.93 281.82,893.93 283.87,900.25" fill="#87CEEB"/>
<polygon points="285.5,803.15 280.13,799.25 282.18,792.93 288.82,792.93 290.87,799.25" fill="#87CEEB"/>
<polygon points="291.5,776.15 286.13,772.25 288.18,765.93 294.82,765.93 296.87,772.25" fill="#87CEEB"/>
<polygon points="297.5,765.15 292.13,761.25 294.18,754.93 300.82,754.93 302.87,761.25" fill="#87CEEB"/>
<polygon points="303.5,758.15 298.13,754.25 300.18,747.93 306.82,747.93 308.87,754.25" fill="#87CEEB"/>
<polygon points="309.5,741.15 304.13,737.25 306.18,730.93 312.82,730.93 314.87,737.25" fill="#87CEEB"/>
<polygon points="316.5,682.15 311.13,678.25 313.18,671.93 319.82,671.93 321.87,678.25" fill="#87CEEB"/>
<polygon points="322.5,638.15 317.13,634.25 319.18,627.93 325.82,627.93 327.87,634.25" fill="#87CEEB"/>
<polygon points="328.5,639.15 323.13,635.25 325.18,628.93 331.82,628.93 333.87,635.25" fill="#87CEEB"/>
<polygon points="334.5,615.15 329.13,611.25 331.18,604.93 337.82,604.93 339.87,611.25" fill="#87CEEB"/>
<polygon points="341.5,570.15 336.13,566.25 338.18,559.93 344.82,559.93 346.87,566.25" fill="#87CEEB"/>
<polygon points="347.5,550.15 342.13,546.25 344.18,539.93 350.82,539.93 352.87,546.25" fill="#87CEEB"/>
<polygon points="353.5,518.15 348.13,514.25 350.18,507.93 356.82,507.93 358.87,514.25" fill="#87CEEB"/>
<polygon points="359.5,481.15 354.13,477.25 356.18,470.93 362.82,470.93 364.87,477.25" fill="#87CEEB"/>
<polygon points="365.5,544.15 360.13,540.25 362.18,533.93 368.82,533.93 370.87,540.25" fill="#87CEEB"/>
<polygon points="372.5,528.15 367.13,524.25 369.18,517.93 375.82,517.93 377.87,524.25" fill="#87CEEB"/>
<polygon points="378.5,506.15 373.13,502.25 375.18,495.93 381.82,495.93 383.87,502.25" fill="#87CEEB"/>
<polygon points="384.5,513.15 379.13,509.25 381.18,502.93 387.82,502.93 389.87,509.25" fill="#87CEEB"/>
<polygon points="390.5,513.15 385.13,509.25 387.18,502.93 393.82,502.93 395.87,509.25" fill="#87CEEB"/>
<polygon points="397.5,335.15 392.13,331.25 394.18,324.93 400.82,324.93 402.87,331.25" fill="#87CEEB"/>
<polygon points="403.5,525.15 398.13,521.25 400.18,514.93 406.82,514.93 408.87,521.25" fill="#87CEEB"/>
<polygon points="409.5,662.15 404.13,658.25 406.18,651.93 412.82,651.93 414.87,658.25" fill="#87CEEB"/>
<polygon points="415.5,713.15 410.13,709.25 412.18,702.93 418.82,702.93 420.87,709.25" fill="#87CEEB"/>
<polygon points="421.5,559.15 416.13,555.25 418.18,548.93 424.82,548.93 426.87,555.25" fill="#87CEEB"/>
<polygon points="428.5,590.15 423.13,586.25 425.18,579.93 431.82,579.93 433.87,586.25" fill="#87CEEB"/>
<polygon points="434.5,589.15 429.13,585.25 431.18,578.93 437.82,578.93 439.87,585.25" fill="#87CEEB"/>
<polygon points="440.5,597.15 435.13,593.25 437.18,586.93 443.82,586.93 445.87,593.25" fill="#87CEEB"/>
<polygon points="446.5,461.15 441.13,457.25 443.18,450.93 449.82,450.93 451.87,457.25" fill="#87CEEB"/>
<polygon points="453.5,371.15 448.13,367.25 450.18,360.93 456.82,360.93 458.87,367.25" fill="#87CEEB"/>
<polygon points="459.5,427.15 454.13,423.25 456.18,416.93 462.82,416.93 464.87,423.25" fill="#87CEEB"/>
<polygon points="465.5,410.15 460.13,406.25 462.18,399.93 468.82,399.93 470.87,406.25" fill="#87CEEB"/>
<polygon points="471.5,403.15 466.13,399.25 468.18,392.93 474.82,392.93 476.87,399.25" fill="#87CEEB"/>
<polygon points="477.5,366.15 472.13,362.25 474.18,355.93 480.82,355.93 482.87,362.25" fill="#87CEEB"/>
<polygon points="484.5,391.15 479.13,387.25 481.18,380.93 487.82,380.93 489.87,387.25" fill="#87CEEB"/>
<polygon points="490.5,406.15 485.13,402.25 487.18,395.93 493.82,395.93 495.87,402.25" fill="#87CEEB"/>
<polygon points="496.5,414.15 491.13,410.25 493.18,403.93 499.82,403.93 501.87,410.25" fill="#87CEEB"/>
<polygon points="502.5,416.15 497.13,412.25 499.18,405.93 505.82,405.93 507.87,412.25" fill="#87CEEB"/>
<polygon points="509.5,391.15 504.13,387.25 506.18,380.93 512.82,380.93 514.87,387.25" fill="#87CEEB"/>
<polygon points="515.5,391.15 510.13,387.25 512.18,380.93 518.82,380.93 520.87,387.25" fill="#87CEEB"/>
<polygon points="521.5,446.15 516.13,442.25 518.18,435.93 524.82,435.93 526.87,442.25" fill="#87CEEB"/>
<polygon points="527.5,472.15 522.13,468.25 524.18,461.93 530.82,461.93 532.87,468.25" fill="#87CEEB"/>
<polygon points="533.5,522.15 528.13,518.25 530.18,511.93 536.82,511.93 538.87,518.25" fill="#87CEEB"/>
<polygon points="540.5,561.15 535.13,557.25 537.18,550.93 543.82,550.93 545.87,557.25" fill="#87CEEB"/>
<polygon points="546.5,595.15 541.13,591.25 543.18,584.93 549.82,584.93 551.87,591.25" fill="#87CEEB"/>
<polygon points="552.5,640.15 547.13,636.25 549.18,629.93 555.82,629.93 557.87,636.25" fill="#87CEEB"/>
<polygon points="558.5,689.15 553.13,685.25 555.18,678.93 561.82,678.93 563.87,685.25" fill="#87CEEB"/>
<polygon points="565.5,725.15 560.13,721.25 562.18,714.93 568.82,714.93 570.87,721.25" fill="#87CEEB"/>
<polygon points="571.5,772.15 566.13,768.25 568.18,761.93 574.82,761.93 576.87,768.25" fill="#87CEEB"/>
<polygon points="577.5,797.15 572.13,793.25 574.18,786.93 580.82,786.93 582.87,793.25" fill="#87CEEB"/>
<polygon points="583.5,844.15 578.13,840.25 580.18,833.93 586.82,833.93 588.87,840.25" fill="#87CEEB"/>
<polygon points="589.5,866.15 584.13,862.25 586.18,855.93 592.82,855.93 594.87,862.25" fill="#87CEEB"/>
<polygon points="596.5,854.15 591.13,850.25 593.18,843.93 599.82,843.93 601.87,850.25" fill="#87CEEB"/>
<polygon points="602.5,826.15 597.13,822.25 599.18,815.93 605.82,815.93 607.87,822.25" fill="#87CEEB"/>
<polygon points="608.5,765.15 603.13,761.25 605.18,754.93 611.82,754.93 613.87,761.25" fill="#87CEEB"/>
<polygon points="614.5,695.15 609.13,691.25 611.18,684.93 617.82,684.93 619.87,691.25" fill="#87CEEB"/>
<polygon points="621.5,639.15 616.13,635.25 618.18,628.93 624.82,628.93 626.87,635.25" fill="#87CEEB"/>
<polygon points="627.5,607.15 622.13,603.25 624.18,596.93 630.82,596.93 632.87,603.25" fill="#87CEEB"/>
<polygon points="633.5,590.15 628.13,586.25 630.18,579.93 636.82,579.93 638.87,586.25" fill="#87CEEB"/>
<polygon points="639.5,586.15 634.13,582.25 636.18,575.93 642.82,575.93 644.87,582.25" fill="#87CEEB"/>
<polygon points="645.5,581.15 640.13,577.25 642.18,570.93 648.82,570.93 650.87,577.25" fill="#87CEEB"/>
<polygon points="652.5,611.15 647.13,607.25 649.18,600.93 655.82,600.93 657.87,607.25" fill="#87CEEB"/>
<polygon points="658.5,623.15 653.13,619.25 655.18,612.93 661.82,612.93 663.87,619.25" fill="#87CEEB"/>
<polygon points="664.5,622.15 659.13,618.25 661.18,611.93 667.82,611.93 669.87,618.25" fill="#87CEEB"/>
<polygon points="670.5,627.15 665.13,623.25 667.18,616.93 673.82,616.93 675.87,623.25" fill="#87CEEB"/>
<polygon points="676.5,658.15 671.13,654.25 673.18,647.93 679.82,647.93 681.87,654.25" fill="#87CEEB"/>
<polygon points="683.5,709.15 678.13,705.25 680.18,698.93 686.82,698.93 688.87,705.25" fill="#87CEEB"/>
<polygon points="689.5,737.15 684.13,733.25 686.18,726.93 692.82,726.93 694.87,733.25" fill="#87CEEB"/>
<polygon points="695.5,743.15 690.13,739.25 692.18,732.93 698.82,732.93 700.87,739.25" fill="#87CEEB"/>
<polygon points="701.5,748.15 696.13,744.25 698.18,737.93 704.82,737.93 706.87,744.25" fill="#87CEEB"/>
<polygon points="708.5,824.15 703.13,820.25 705.18,813.93 711.82,813.93 713.87,820.25" fill="#87CEEB"/>
<polygon points="714.5,775.15 709.13,771.25 711.18,764.93 717.82,764.93 719.87,771.25" fill="#87CEEB"/>
<polygon points="720.5,709.15 715.13,705.25 717.18,698.93 723.82,698.93 725.87,705.25" fill="#87CEEB"/>
<polygon points="726.5,687.15 721.13,683.25 723.18,676.93 729.82,676.93 731.87,683.25" fill="#87CEEB"/>
<polygon points="732.5,674.15 727.13,670.25 729.18,663.93 735.82,663.93 737.87,670.25" fill="#87CEEB"/>
<polygon points="739.5,671.15 734.13,667.25 736.18,660.93 742.82,660.93 744.87,667.25" fill="#87CEEB"/>
<polygon points="745.5,725.15 740.13,721.25 742.18,714.93 748.82,714.93 750.87,721.25" fill="#87CEEB"/>
<polygon points="751.5,756.15 746.13,752.25 748.18,745.93 754.82,745.93 756.87,752.25" fill="#87CEEB"/>
<polygon points="757.5,729.15 752.13,725.25 754.18,718.93 760.82,718.93 762.87,725.25" fill="#87CEEB"/>
<polygon points="764.5,665.15 759.13,661.25 761.18,654.93 767.82,654.93 769.87,661.25" fill="#87CEEB"/>
<polygon points="770.5,646.15 765.13,642.25 767.18,635.93 773.82,635.93 775.87,642.25" fill="#87CEEB"/>
<polygon points="776.5,653.15 771.13,649.25 773.18,642.93 779.82,642.93 781.87,649.25" fill="#87CEEB"/>
<polygon points="782.5,705.15 777.13,701.25 779.18,694.93 785.82,694.93 787.87,701.25" fill="#87CEEB"/>
<polygon points="788.5,729.15 783.13,725.25 785.18,718.93 791.82,718.93 793.87,725.25" fill="#87CEEB"/>
<polygon points="795.5,778.15 790.13,774.25 792.18,767.93 798.82,767.93 800.87,774.25" fill="#87CEEB"/>
<polygon points="801.5,827.15 796.13,823.25 798.18,816.93 804.82,816.93 806.87,823.25" fill="#87CEEB"/>
<polygon points="807.5,878.15 802.13,874.25 804.18,867.93 810.82,867.93 812.87,874.25" fill="#87CEEB"/>
<polygon points="813.5,839.15 808.13,835.25 810.18,828.93 816.82,828.93 818.87,835.25" fill="#87CEEB"/>
<polygon points="820.5,832.15 815.13,828.25 817.18,821.93 823.82,821.93 825.87,828.25" fill="#87CEEB"/>
<polygon points="826.5,804.15 821.13,800.25 823.18,793.93 829.82,793.93 831.87,800.25" fill="#87CEEB"/>
<polygon points="832.5,780.15 827.13,776.25 829.18,769.93 835.82,769.93 837.87,776.25" fill="#87CEEB"/>
<polygon points="838.5,768.15 833.13,764.25 835.18,757.93 841.82,757.93 843.87,764.25" fill="#87CEEB"/>
<polygon points="844.5,769.15 839.13,765.25 841.18,758.93 847.82,758.93 849.87,765.25" fill="#87CEEB"/>
<polygon points="851.5,767.15 846.13,763.25 848.18,756.93 854.82,756.93 856.87,763.25" fill="#87CEEB"/>
<polygon points="857.5,757.15 852.13,753.25 854.18,746.93 860.82,746.93 862.87,753.25" fill="#87CEEB"/>
<polygon points="863.5,771.15 858.13,767.25 860.18,760.93 866.82,760.93 868.87,767.25" fill="#87CEEB"/>
<polygon points="869.5,771.15 864.13,767.25 866.18,760.93 872.82,760.93 874.87,767.25" fill="#87CEEB"/>
<polygon points="876.5,770.15 871.13,766.25 873.18,759.93 879.82,759.93 881.87,766.25" fill="#87CEEB"/>
<polygon points="882.5,771.15 877.13,767.25 879.18,760.93 885.82,760.93 887.87,767.25" fill="#87CEEB"/>
<polygon points="888.5,787.15 883.13,783.25 885.18,776.93 891.82,776.93 893.87,783.25" fill="#87CEEB"/>
<polygon points="894.5,802.15 889.13,798.25 891.18,791.93 897.82,791.93 899.87,798.25" fill="#87CEEB"/>
<polygon points="900.5,809.15 895.13,805.25 897.18,798.93 903.82,798.93 905.87,805.25" fill="#87CEEB"/>
<polygon points="907.5,824.15 902.13,820.25 904.18,813.93 910.82,813.93 912.87,820.25" fill="#87CEEB"/>
<polygon points="913.5,851.15 908.13,847.25 910.18,840.93 916.82,840.93 918.87,847.25" fill="#87CEEB"/>
<polygon points="919.5,864.15 914.13,860.25 916.18,853.93 922.82,853.93 924.87,860.25" fill="#87CEEB"/>
<polygon points="925.5,895.15 920.13,891.25 922.18,884.93 928.82,884.93 930.87,891.25" fill="#87CEEB"/>
<polygon points="932.5,871.15 927.13,867.25 929.18,860.93 935.82,860.93 937.87,867.25" fill="#87CEEB"/>
<polygon points="938.5,836.15 933.13,832.25 935.18,825.93 941.82,825.93 943.87,832.25" fill="#87CEEB"/>
<polygon points="944.5,810.15 939.13,806.25 941.18,799.93 947.82,799.93 949.87,806.25" fill="#87CEEB"/>
<polygon points="950.5,781.15 945.13,777.25 947.18,770.93 953.82,770.93 955.87,777.25" fill="#87CEEB"/>
<polygon points="956.5,758.15 951.13,754.25 953.18,747.93 959.82,747.93 961.87,754.25" fill="#87CEEB"/>
<polygon points="963.5,751.15 958.13,747.25 960.18,740.93 966.82,740.93 968.87,747.25" fill="#87CEEB"/>
<polygon points="981.5,728.15 976.13,724.25 978.18,717.93 984.82,717.93 986.87,724.25" fill="#87CEEB"/>
<polygon points="1000.5,653.15 995.13,649.25 997.18,642.93 1003.82,642.93 1005.87,649.25" fill="#87CEEB"/>
<polygon points="1019.5,585.15 1014.13,581.25 1016.18,574.93 1022.82,574.93 1024.87,581.25" fill="#87CEEB"/>
<polygon points="1037.5,581.15 1032.13,577.25 1034.18,570.93 1040.82,570.93 1042.87,577.25" fill="#87CEEB"/>
<polygon points="1056.5,594.15 1051.13,590.25 1053.18,583.93 1059.82,583.93 1061.87,590.25" fill="#87CEEB"/>
<polygon points="1075.5,609.15 1070.13,605.25 1072.18,598.93 1078.82,598.93 1080.87,605.25" fill="#87CEEB"/>
<polygon points="1093.5,642.15 1088.13,638.25 1090.18,631.93 1096.82,631.93 1098.87,638.25" fill="#87CEEB"/>
<polygon points="1112.5,729.15 1107.13,725.25 1109.18,718.93 1115.82,718.93 1117.87,725.25" fill="#87CEEB"/>
<polygon points="1131.5,756.15 1126.13,752.25 1128.18,745.93 1134.82,745.93 1136.87,752.25" fill="#87CEEB"/>
<polygon points="1149.5,789.15 1144.13,785.25 1146.18,778.93 1152.82,778.93 1154.87,785.25" fill="#87CEEB"/>
<polygon points="1168.5,837.15 1163.13,833.25 1165.18,826.93 1171.82,826.93 1173.87,833.25" fill="#87CEEB"/>
<polygon points="1187.5,861.15 1182.13,857.25 1184.18,850.93 1190.82,850.93 1192.87,857.25" fill="#87CEEB"/>
<polygon points="1205.5,824.15 1200.13,820.25 1202.18,813.93 1208.82,813.93 1210.87,820.25" fill="#87CEEB"/>
<polygon points="1224.5,817.15 1219.13,813.25 1221.18,806.93 1227.82,806.93 1229.87,813.25" fill="#87CEEB"/>
<polygon points="1243.5,772.15 1238.13,768.25 1240.18,761.93 1246.82,761.93 1248.87,768.25" fill="#87CEEB"/>
<polygon points="1261.5,744.15 1256.13,740.25 1258.18,733.93 1264.82,733.93 1266.87,740.25" fill="#87CEEB"/>
<polygon points="1280.5,760.15 1275.13,756.25 1277.18,749.93 1283.82,749.93 1285.87,756.25" fill="#87CEEB"/>
<polygon points="1299.5,762.15 1294.13,758.25 1296.18,751.93 1302.82,751.93 1304.87,758.25" fill="#87CEEB"/>
<polygon points="1317.5,760.15 1312.13,756.25 1314.18,749.93 1320.82,749.93 1322.87,756.25" fill="#87CEEB"/>
<polygon points="1336.5,756.15 1331.13,752.25 1333.18,745.93 1339.82,745.93 1341.87,752.25" fill="#87CEEB"/>
<polygon points="1354.5,813.15 1349.13,809.25 1351.18,802.93 1357.82,802.93 1359.87,809.25" fill="#87CEEB"/>
<polygon points="1373.5,822.15 1368.13,818.25 1370.18,811.93 1376.82,811.93 1378.87,818.25" fill="#87CEEB"/>
<polygon points="1392.5,826.15 1387.13,822.25 1389.18,815.93 1395.82,815.93 1397.87,822.25" fill="#87CEEB"/>
<polygon points="1410.5,816.15 1405.13,812.25 1407.18,805.93 1413.82,805.93 1415.87,812.25" fill="#87CEEB"/>
<polygon points="1429.5,740.15 1424.13,736.25 1426.18,729.93 1432.82,729.93 1434.87,736.25" fill="#87CEEB"/>
<polygon points="1448.5,648.15 1443.13,644.25 1445.18,637.93 1451.82,637.93 1453.87,644.25" fill="#87CEEB"/>
</g>
<g>
<path d="M217 707.5h11M222.5 702v11M217.3 702.3l10.4 10.4M217.3 712.7l10.4 -10.4" stroke="#FFA500"/>
<path d="M224 725.5h11M229.5 720v11M224.3 720.3l10.4 10.4M224.3 730.7l10.4 -10.4" stroke="#FFA500"/>
<path d="M230 741.5h11M235.5 736v11M230.3 736.3l10.4 10.4M230.3 746.7l10.4 -10.4" stroke="#FFA500"/>
<path d="M236 765.5h11M241.5 760v11M236.3 760.3l10.4 10.4M236.3 770.7l10.4 -10.4" stroke="#FFA500"/>
<path d="M242 788.5h11M247.5 783v11M242.3 783.3l10.4 10.4M242.3 793.7l10.4 -10.4" stroke="#FFA500"/>
<path d="M249 805.5h11M254.5 800v11M249.3 800.3l10.4 10.4M249.3 810.7l10.4 -10.4" stroke="#FFA500"/>
<path d="M255 821.5h11M260.5 816v11M255.3 816.3l10.4 10.4M255.3 826.7l10.4 -10.4" stroke="#FFA500"/>
<path d="M261 832.5h11M266.5 827v11M261.3 827.3l10.4 10.4M261.3 837.7l10.4 -10.4" stroke="#FFA500"/>
<path d="M267 839.5h11M272.5 834v11M267.3 834.3l10.4 10.4M267.3 844.7l10.4 -10.4" stroke="#FFA500"/>
<path d="M273 837.5h11M278.5 832v11M273.3 832.3l10.4 10.4M273.3 842.7l10.4 -10.4" stroke="#FFA500"/>
<path d="M280 825.5h11M285.5 820v11M280.3 820.3l10.4 10.4M280.3 830.7l10.4 -10.4" stroke="#FFA500"/>
<path d="M286 811.5h11M291.5 806v11M286.3 806.3l10.4 10.4M286.3 816.7l10.4 -10.4" stroke="#FFA500"/>
<path d="M292 782.5h11M297.5 777v11M292.3 777.3l10.4 10.4M292.3 787.7l10.4 -10.4" stroke="#FFA500"/>
<path d="M298 745.5h11M303.5 740v11M298.3 740.3l10.4 10.4M298.3 750.7l10.4 -10.4" stroke="#FFA500"/>
<path d="M304 703.5h11M309.5 698v11M304.3 698.3l10.4 10.4M304.3 708.7l10.4 -10.4" stroke="#FFA500"/>
<path d="M311 655.5h11M316.5 650v11M311.3 650.3l10.4 10.4M311.3 660.7l10.4 -10.4" stroke="#FFA500"/>
<path d="M317 616.5h11M322.5 611v11M317.3 611.3l10.4 10.4M317.3 621.7l10.4 -10.4" stroke="#FFA500"/>
<path d="M323 584.5h11M328.5 579v11M323.3 579.3l10.4 10.4M323.3 589.7l10.4 -10.4" stroke="#FFA500"/>
<path d="M329 542.5h11M334.5 537v11M329.3 537.3l10.4 10.4M329.3 547.7l10.4 -10.4" stroke="#FFA500"/>
<path d="M336 518.5h11M341.5 513v11M336.3 513.3l10.4 10.4M336.3 523.7l10.4 -10.4" stroke="#FFA500"/>
<path d="M342 493.5h11M347.5 488v11M342.3 488.3l10.4 10.4M342.3 498.7l10.4 -10.4" stroke="#FFA500"/>
<path d="M348 487.5h11M353.5 482v11M348.3 482.3l10.4 10.4M348.3 492.7l10.4 -10.4" stroke="#FFA500"/>
<path d="M354 500.5h11M359.5 495v11M354.3 495.3l10.4 10.4M354.3 505.7l10.4 -10.4" stroke="#FFA500"/>
<path d="M360 528.5h11M365.5 523v11M360.3 523.3l10.4 10.4M360.3 533.7l10.4 -10.4" stroke="#FFA500"/>
<path d="M367 522.5h11M372.5 517v11M367.3 517.3l10.4 10.4M367.3 527.7l10.4 -10.4" stroke="#FFA500"/>
<path d="M373 532.5h11M378.5 527v11M373.3 527.3l10.4 10.4M373.3 537.7l10.4 -10.4" stroke="#FFA500"/>
<path d="M379 548.5h11M384.5 543v11M379.3 543.3l10.4 10.4M379.3 553.7l10.4 -10.4" stroke="#FFA500"/>
<path d="M385 558.5h11M390.5 553v11M385.3 553.3l10.4 10.4M385.3 563.7l10.4 -10.4" stroke="#FFA500"/>
<path d="M392 576.5h11M397.5 571v11M392.3 571.3l10.4 10.4M392.3 581.7l10.4 -10.4" stroke="#FFA500"/>
<path d="M398 600.5h11M403.5 595v11M398.3 595.3l10.4 10.4M398.3 605.7l10.4 -10.4" stroke="#FFA500"/>
<path d="M404 580.5h11M409.5 575v11M404.3 575.3l10.4 10.4M404.3 585.7l10.4 -10.4" stroke="#FFA500"/>
<path d="M410 558.5h11M415.5 553v11M410.3 553.3l10.4 10.4M410.3 563.7l10.4 -10.4" stroke="#FFA500"/>
<path d="M416 541.5h11M421.5 536v11M416.3 536.3l10.4 10.4M416.3 546.7l10.4 -10.4" stroke="#FFA500"/>
<path d="M423 498.5h11M428.5 493v11M423.3 493.3l10.4 10.4M423.3 503.7l10.4 -10.4" stroke="#FFA500"/>
<path d="M429 461.5h11M434.5 456v11M429.3 456.3l10.4 10.4M429.3 466.7l10.4 -10.4" stroke="#FFA500"/>
<path d="M435 439.5h11M440.5 434v11M435.3 434.3l10.4 10.4M435.3 444.7l10.4 -10.4" stroke="#FFA500"/>
<path d="M454 324.5h11M459.5 319v11M454.3 319.3l10.4 10.4M454.3 329.7l10.4 -10.4" stroke="#FFA500"/>
<path d="M472 332.5h11M477.5 327v11M472.3 327.3l10.4 10.4M472.3 337.7l10.4 -10.4" stroke="#FFA500"/>
<path d="M491 393.5h11M496.5 388v11M491.3 388.3l10.4 10.4M491.3 398.7l10.4 -10.4" stroke="#FFA500"/>
<path d="M510 600.5h11M515.5 595v11M510.3 595.3l10.4 10.4M510.3 605.7l10.4 -10.4" stroke="#FFA500"/>
<path d="M528 701.5h11M533.5 696v11M528.3 696.3l10.4 10.4M528.3 706.7l10.4 -10.4" stroke="#FFA500"/>
<path d="M547 789.5h11M552.5 784v11M547.3 784.3l10.4 10.4M547.3 794.7l10.4 -10.4" stroke="#FFA500"/>
<path d="M566 757.5h11M571.5 752v11M566.3 752.3l10.4 10.4M566.3 762.7l10.4 -10.4" stroke="#FFA500"/>
<path d="M584 694.5h11M589.5 689v11M584.3 689.3l10.4 10.4M584.3 699.7l10.4 -10.4" stroke="#FFA500"/>
<path d="M603 621.5h11M608.5 616v11M603.3 616.3l10.4 10.4M603.3 626.7l10.4 -10.4" stroke="#FFA500"/>
<path d="M622 597.5h11M627.5 592v11M622.3 592.3l10.4 10.4M622.3 602.7l10.4 -10.4" stroke="#FFA500"/>
<path d="M640 648.5h11M645.5 643v11M640.3 643.3l10.4 10.4M640.3 653.7l10.4 -10.4" stroke="#FFA500"/>
<path d="M659 733.5h11M664.5 728v11M659.3 728.3l10.4 10.4M659.3 738.7l10.4 -10.4" stroke="#FFA500"/>
<path d="M678 757.5h11M683.5 752v11M678.3 752.3l10.4 10.4M678.3 762.7l10.4 -10.4" stroke="#FFA500"/>
<path d="M696 757.5h11M701.5 752v11M696.3 752.3l10.4 10.4M696.3 762.7l10.4 -10.4" stroke="#FFA500"/>
<path d="M715 716.5h11M720.5 711v11M715.3 711.3l10.4 10.4M715.3 721.7l10.4 -10.4" stroke="#FFA500"/>
<path d="M734 711.5h11M739.5 706v11M734.3 706.3l10.4 10.4M734.3 716.7l10.4 -10.4" stroke="#FFA500"/>
<path d="M752 693.5h11M757.5 688v11M752.3 688.3l10.4 10.4M752.3 698.7l10.4 -10.4" stroke="#FFA500"/>
<path d="M771 666.5h11M776.5 661v11M771.3 661.3l10.4 10.4M771.3 671.7l10.4 -10.4" stroke="#FFA500"/>
<path d="M790 698.5h11M795.5 693v11M790.3 693.3l10.4 10.4M790.3 703.7l10.4 -10.4" stroke="#FFA500"/>
<path d="M808 776.5h11M813.5 771v11M808.3 771.3l10.4 10.4M808.3 781.7l10.4 -10.4" stroke="#FFA500"/>
<path d="M827 797.5h11M832.5 792v11M827.3 792.3l10.4 10.4M827.3 802.7l10.4 -10.4" stroke="#FFA500"/>
<path d="M846 804.5h11M851.5 799v11M846.3 799.3l10.4 10.4M846.3 809.7l10.4 -10.4" stroke="#FFA500"/>
<path d="M864 791.5h11M869.5 786v11M864.3 786.3l10.4 10.4M864.3 796.7l10.4 -10.4" stroke="#FFA500"/>
<path d="M883 772.5h11M888.5 767v11M883.3 767.3l10.4 10.4M883.3 777.7l10.4 -10.4" stroke="#FFA500"/>
<path d="M902 743.5h11M907.5 738v11M902.3 738.3l10.4 10.4M902.3 748.7l10.4 -10.4" stroke="#FFA500"/>
<path d="M920 701.5h11M925.5 696v11M920.3 696.3l10.4 10.4M920.3 706.7l10.4 -10.4" stroke="#FFA500"/>
<path d="M939 713.5h11M944.5 708v11M939.3 708.3l10.4 10.4M939.3 718.7l10.4 -10.4" stroke="#FFA500"/>
<path d="M958 753.5h11M963.5 748v11M958.3 748.3l10.4 10.4M958.3 758.7l10.4 -10.4" stroke="#FFA500"/>
<path d="M976 758.5h11M981.5 753v11M976.3 753.3l10.4 10.4M976.3 763.7l10.4 -10.4" stroke="#FFA500"/>
<path d="M995 756.5h11M1000.5 751v11M995.3 751.3l10.4 10.4M995.3 761.7l10.4 -10.4" stroke="#FFA500"/>
<path d="M1014 738.5h11M1019.5 733v11M1014.3 733.3l10.4 10.4M1014.3 743.7l10.4 -10.4" stroke="#FFA500"/>
<path d="M1032 713.5h11M1037.5 708v11M1032.3 708.3l10.4 10.4M1032.3 718.7l10.4 -10.4" stroke="#FFA500"/>
<path d="M1051 692.5h11M1056.5 687v11M1051.3 687.3l10.4 10.4M1051.3 697.7l10.4 -10.4" stroke="#FFA500"/>
<path d="M1070 657.5h11M1075.5 652v11M1070.3 652.3l10.4 10.4M1070.3 662.7l10.4 -10.4" stroke="#FFA500"/>
<path d="M1088 680.5h11M1093.5 675v11M1088.3 675.3l10.4 10.4M1088.3 685.7l10.4 -10.4" stroke="#FFA500"/>
<path d="M1107 727.5h11M1112.5 722v11M1107.3 722.3l10.4 10.4M1107.3 732.7l10.4 -10.4" stroke="#FFA500"/>
<path d="M1126 739.5h11M1131.5 734v11M1126.3 734.3l10.4 10.4M1126.3 744.7l10.4 -10.4" stroke="#FFA500"/>
<path d="M1144 757.5h11M1149.5 752v11M1144.3 752.3l10.4 10.4M1144.3 762.7l10.4 -10.4" stroke="#FFA500"/>
<path d="M1163 757.5h11M1168.5 752v11M1163.3 752.3l10.4 10.4M1163.3 762.7l10.4 -10.4" stroke="#FFA500"/>
<path d="M1182 765.5h11M1187.5 760v11M1182.3 760.3l10.4 10.4M1182.3 770.7l10.4 -10.4" stroke="#FFA500"/>
<path d="M1200 767.5h11M1205.5 762v11M1200.3 762.3l10.4 10.4M1200.3 772.7l10.4 -10.4" stroke="#FFA500"/>
<path d="M1219 745.5h11M1224.5 740v11M1219.3 740.3l10.4 10.4M1219.3 750.7l10.4 -10.4" stroke="#FFA500"/>
<path d="M1238 757.5h11M1243.5 752v11M1238.3 752.3l10.4 10.4M1238.3 762.7l10.4 -10.4" stroke="#FFA500"/>
<path d="M1256 788.5h11M1261.5 783v11M1256.3 783.3l10.4 10.4M1256.3 793.7l10.4 -10.4" stroke="#FFA500"/>
<path d="M1275 789.5h11M1280.5 784v11M1275.3 784.3l10.4 10.4M1275.3 794.7l10.4 -10.4" stroke="#FFA500"/>
<path d="M1294 789.5h11M1299.5 784v11M1294.3 784.3l10.4 10.4M1294.3 794.7l10.4 -10.4" stroke="#FFA500"/>
<path d="M1312 781.5h11M1317.5 776v11M1312.3 776.3l10.4 10.4M1312.3 786.7l10.4 -10.4" stroke="#FFA500"/>
<path d="M1331 772.5h11M1336.5 767v11M1331.3 767.3l10.4 10.4M1331.3 777.7l10.4 -10.4" stroke="#FFA500"/>
<path d="M1349 756.5h11M1354.5 751v11M1349.3 751.3l10.4 10.4M1349.3 761.7l10.4 -10.4" stroke="#FFA500"/>
<path d="M1368 722.5h11M1373.5 717v11M1368.3 717.3l10.4 10.4M1368.3 727.7l10.4 -10.4" stroke="#FFA500"/>
<path d="M1387 725.5h11M1392.5 720v11M1387.3 720.3l10.4 10.4M1387.3 730.7l10.4 -10.4" stroke="#FFA500"/>
<path d="M1405 765.5h11M1410.5 760v11M1405.3 760.3l10.4 10.4M1405.3 770.7l10.4 -10.4" stroke="#FFA500"/>
<path d="M1443 768.5h11M1448.5 763v11M1443.3 763.3l10.4 10.4M1443.3 773.7l10.4 -10.4" stroke="#FFA500"/>
</g>
</g>
<g stroke-width="1" fill="none">
<text class="e" x="1338" y="118">ECMWF</text>
<rect x="1384" y="105" width="9" height="9" fill="#0000CD"/>
<text class="e" x="1338" y="146">HRRR</text>
<circle cx="1388.5" cy="137.5" r="5.5" fill="#006400"/>
<text class="e" x="1338" y="174">NAM 3 km</text>
<polygon points="1388.5,159.5 1394.2,170 1382.8,170" fill="#FF0000"/>
<text class="e" x="1338" y="202">NAM 12 km</text>
<polygon points="1388.5,199.5 1394.2,189 1382.8,189" fill="#000000"/>
<text class="e" x="1338" y="230">GFS 0.125°</text>
<polygon points="1388.5,216.1 1393.9,221.5 1388.5,226.9 1383.1,221.5" fill="#C0C0C0"/>
<text class="e" x="1338" y="258">GFS 0.250°</text>
<polygon points="1388.5,255.15 1383.13,251.25 1385.18,244.93 1391.82,244.93 1393.87,251.25" fill="#87CEEB"/>
<text class="e" x="1338" y="286">NBM</text>
<path d="M1383 277.5h11M1388.5 272v11M1383.3 272.3l10.4 10.4M1383.3 282.7l10.4 -10.4" stroke="#FFA500"/>
</g>
<rect x="110.5" y="84.5" width="1344" height="826" fill="none" stroke="#000" stroke-width="1"/>
</svg></body></html>
